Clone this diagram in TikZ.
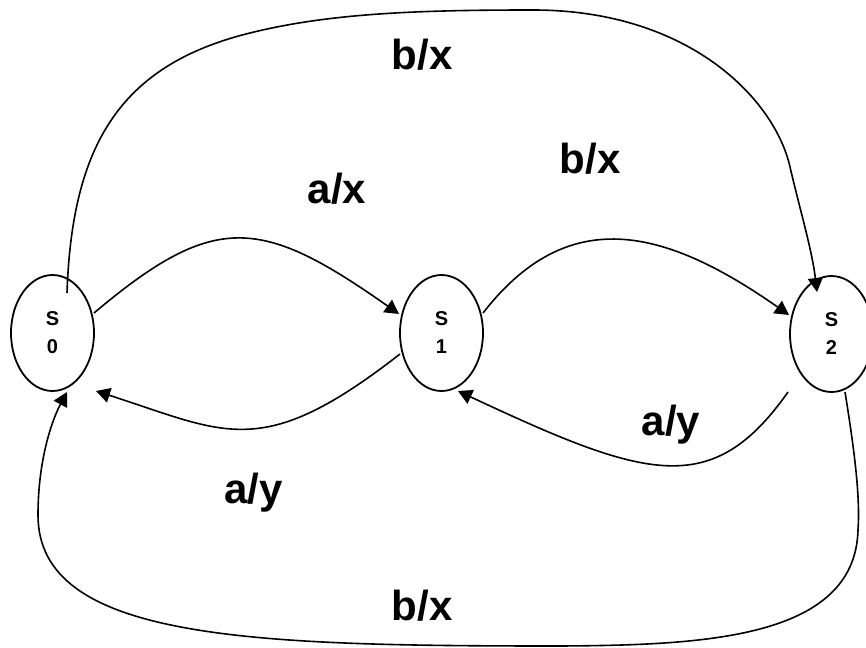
\documentclass[tikz,border=0pt]{standalone}
\usepackage{fontspec}
\setmainfont{Liberation Sans}
\usetikzlibrary{shapes.geometric,arrows.meta,calc}
\begin{document}
\begin{tikzpicture}[x=1pt,y=-1pt,
  state/.style={ellipse,draw,line width=1.8pt,minimum width=83pt,minimum height=116pt,inner sep=0pt,align=center,font=\fontsize{20}{28}\selectfont\bfseries},
  edge/.style={line width=1.6pt,-{Triangle[length=14pt,width=15pt]}},
  lbl/.style={anchor=base,inner sep=0pt,font=\fontsize{42}{42}\selectfont\bfseries}]
\useasboundingbox (0,0) rectangle (866,647);
\clip (0,0) rectangle (866,647);

\node[state] (s0) at (52.5,333) {S\\0};
\node[state] (s1) at (441.5,333) {S\\1};
\node[state] (s2) at (831.5,334) {S\\2};

% S0 -> S2 (top)
\draw[edge] ($(s0)+(14.5,-40)$) .. controls (72,145) and (120,65) .. (250,33)
  .. controls (330,13) and (420,10) .. (533,10)
  .. controls (690,10) and (775,100) .. (790,167)
  .. controls (800,210) and (812,250) .. ($(s2)+(-14.5,-42)$);
% S0 -> S1
\draw[edge] ($(s0)+(41.5,-20)$) .. controls (215,211) and (261,217) .. ($(s1)+(-42.5,-19)$);
% S1 -> S2
\draw[edge] ($(s1)+(41.5,-20)$) .. controls (567,205) and (662,226) .. ($(s2)+(-42.5,-19)$);
% S2 -> S1
\draw[edge] ($(s2)+(-43.5,58)$) .. controls (712,500) and (646,479) .. ($(s1)+(16.5,58)$);
% S1 -> S0
\draw[edge] ($(s1)+(-41.5,21)$) .. controls (261.5,462) and (226.6,433) .. ($(s0)+(43.5,58)$);
% S2 -> S0 (bottom)
\draw[edge] ($(s2)+(13.5,58)$) .. controls (856,460) and (860,500) .. (858,530)
  .. controls (855,640) and (700,645) .. (560,646)
  .. controls (250,646) and (38,640) .. (38,515)
  .. controls (38,460) and (52,420) .. ($(s0)+(14.5,59)$);

\node[lbl] (l1) at (422,70) {b/x};
\node[lbl] (l2) at (590,173) {b/x};
\node[lbl] (l3) at (337,203) {a/x};
\node[lbl] (l4) at (671,435) {a/y};
\node[lbl] (l5) at (253.5,503) {a/y};
\node[lbl] (l6) at (422,620) {b/x};
\end{tikzpicture}
\end{document}
